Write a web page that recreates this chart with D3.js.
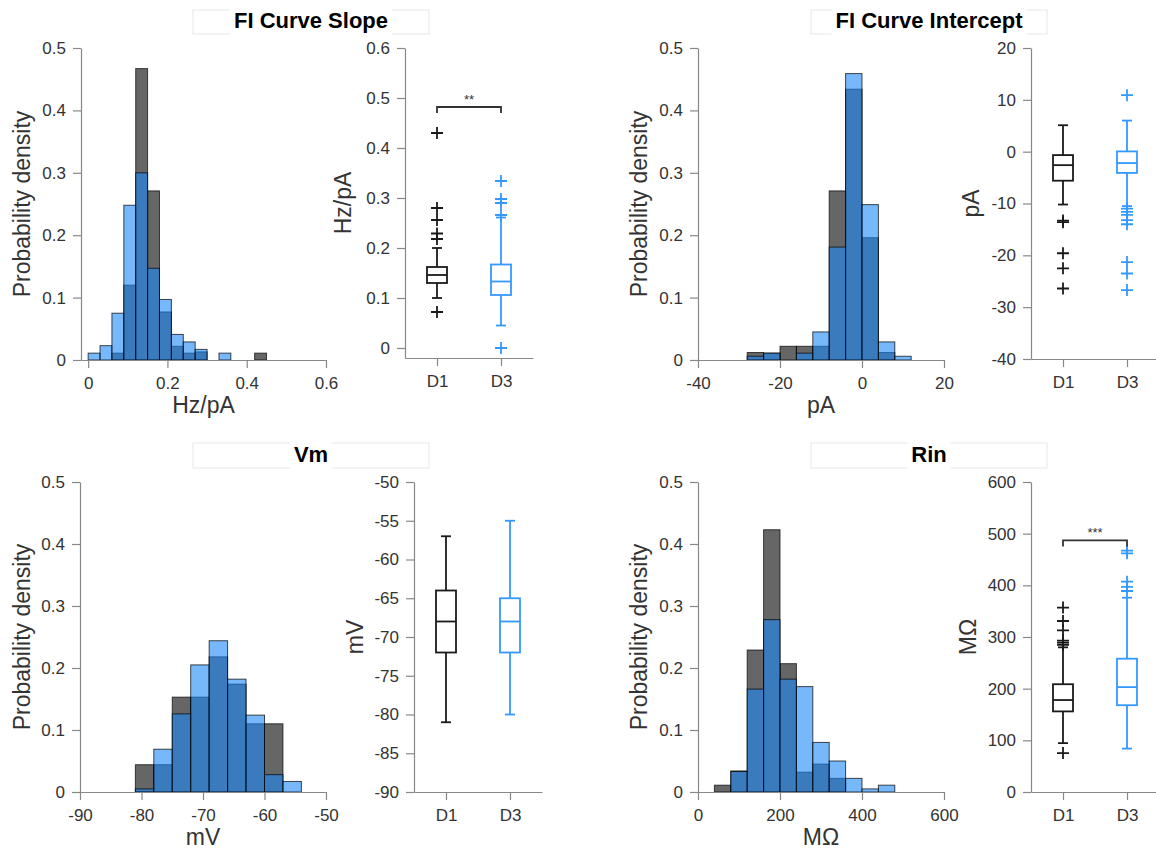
<!DOCTYPE html>
<html>
<head>
<meta charset="utf-8">
<script src="https://cdn.jsdelivr.net/npm/d3@7"></script>
<style>
  body { margin: 0; background: #fff; }
  svg text { font-family: "Liberation Sans", Arial, Helvetica, sans-serif; }
</style>
</head>
<body>
<script>
// histogram bins (edges) and probability per bin, D1 = black, D3 = blue
const slopeEdges = [0, 0.03, 0.06, 0.09, 0.12, 0.15, 0.18, 0.21, 0.24, 0.27, 0.30, 0.33, 0.36, 0.39, 0.42, 0.45];
const slopeD1 = [0, 0, 0.011, 0.12, 0.467, 0.271, 0.077, 0.022, 0.011, 0.013, 0, 0, 0, 0, 0.011];
const slopeD3 = [0.011, 0.023, 0.075, 0.248, 0.300, 0.147, 0.097, 0.041, 0.029, 0.017, 0, 0.011, 0, 0, 0];

const interceptEdges = [-28, -24, -20, -16, -12, -8, -4, 0, 4, 8, 12];
const interceptD1 = [0.012, 0.011, 0.022, 0.022, 0.022, 0.271, 0.434, 0.196, 0.012, 0];
const interceptD3 = [0.006, 0.011, 0, 0.011, 0.045, 0.181, 0.459, 0.249, 0.029, 0.006];

const vmEdges = [-81, -78, -75, -72, -69, -66, -63, -60, -57, -54];
const vmD1 = [0.044, 0.044, 0.153, 0.153, 0.218, 0.174, 0.110, 0.110, 0];
const vmD3 = [0.005, 0.069, 0.126, 0.205, 0.244, 0.182, 0.124, 0.028, 0.017];

const rinEdges = [40, 80, 120, 160, 200, 240, 280, 320, 360, 400, 440, 480];
const rinD1 = [0.011, 0.034, 0.229, 0.423, 0.207, 0.032, 0.045, 0.022, 0, 0, 0];
const rinD3 = [0, 0.033, 0.166, 0.278, 0.182, 0.170, 0.080, 0.050, 0.022, 0.005, 0.011];

// boxplots: [whisker low, q1, median, q3, whisker high] + outliers
const groups = ["D1", "D3"];
const slopeBoxD1 = [0.100, 0.130, 0.146, 0.162, 0.200];
const slopeOutD1 = [0.43, 0.28, 0.256, 0.229, 0.218, 0.072];
const slopeBoxD3 = [0.045, 0.106, 0.133, 0.167, 0.261];
const slopeOutD3 = [0.334, 0.298, 0.29, 0.266, 0];

const interceptBoxD1 = [-10.2, -5.6, -2.6, -0.66, 5.1];
const interceptOutD1 = [-13.3, -13.6, -19.6, -22.5, -26.4];
const interceptBoxD3 = [-10.5, -4.1, -2.2, 0.05, 6.0];
const interceptOutD3 = [10.9, -11.0, -11.6, -12.2, -13.2, -14.0, -21.3, -23.5, -26.7];

const vmBoxD1 = [-81, -72, -68, -64, -57];
const vmOutD1 = [];
const vmBoxD3 = [-80, -72, -68, -65, -55];
const vmOutD3 = [];

const rinBoxD1 = [94.6, 156, 178, 208.6, 280];
const rinOutD1 = [75.3, 285, 289, 293, 313, 331, 357];
const rinBoxD3 = [84, 168, 203, 258, 376];
const rinOutD3 = [389, 397, 407, 462, 467];

// tick labels
const densityTicks = [0, 0.1, 0.2, 0.3, 0.4, 0.5];
const slopeTicks = [0, 0.2, 0.4, 0.6];
const slopeBoxTicks = [0, 0.1, 0.2, 0.3, 0.4, 0.5, 0.6];
const interceptTicks = [-40, -20, 0, 20];
const interceptBoxTicks = [-40, -30, -20, -10, 0, 10, 20];
const vmTicks = [-90, -80, -70, -60, -50];
const vmBoxTicks = [-90, -85, -80, -75, -70, -65, -60, -55, -50];
const rinTicks = [0, 200, 400, 600];
const rinBoxTicks = [0, 100, 200, 300, 400, 500, 600];

const W = 1156, H = 852;
const grey = "#888";
const blackFill = "#000";
const blueFill = "#1c89f7";
const boxBlue = "#3399ff";

const svg = d3.select("body").append("svg")
  .attr("width", W).attr("height", H);

const fmt = (d) => String(+d.toFixed(2));

const styleAxis = (g) => {
  g.select(".domain").attr("stroke", grey).attr("stroke-width", 1.2);
  g.selectAll(".tick line").attr("stroke", grey).attr("stroke-width", 1.2);
  g.selectAll(".tick text").attr("fill", "#333").style("font-size", "17px");
};

const yLabel = (text, x, yc) => {
  svg.append("text")
    .attr("transform", `translate(${x},${yc}) rotate(-90)`)
    .attr("text-anchor", "middle")
    .attr("fill", "#333")
    .style("font-size", "23px")
    .text(text);
};

const drawHist = (o) => {
  const x = d3.scaleLinear().domain(o.xDomain).range([o.left, o.right]);
  const y = d3.scaleLinear().domain([0, 0.5]).range([o.bottom, o.top]);
  const g = svg.append("g");

  const bars = (vals, fill) => {
    g.append("g").selectAll("rect")
      .data(vals.map((v, i) => ({ v, x0: o.edges[i], x1: o.edges[i + 1] })).filter((d) => d.v > 0))
      .enter()
      .append("rect")
      .attr("x", (d) => x(d.x0))
      .attr("width", (d) => x(d.x1) - x(d.x0))
      .attr("y", (d) => y(d.v))
      .attr("height", (d) => y(0) - y(d.v))
      .attr("fill", fill)
      .attr("fill-opacity", 0.6)
      .attr("stroke", "#000")
      .attr("stroke-opacity", 0.7)
      .attr("stroke-width", 1);
  };
  bars(o.d1, blackFill);
  bars(o.d3, blueFill);

  g.append("g")
    .attr("transform", `translate(0,${o.bottom})`)
    .call(d3.axisBottom(x).tickValues(o.xTicks).tickFormat(fmt).tickSize(8).tickSizeOuter(0).tickPadding(9))
    .call(styleAxis);
  g.append("g")
    .attr("transform", `translate(${o.left},0)`)
    .call(d3.axisLeft(y).tickValues(densityTicks).tickFormat(fmt).tickSize(8).tickSizeOuter(0).tickPadding(7))
    .call(styleAxis);

  yLabel("Probability density", o.yLabelX, (o.top + o.bottom) / 2);
  svg.append("text")
    .attr("x", (o.left + o.right) / 2)
    .attr("y", o.bottom + 53)
    .attr("text-anchor", "middle")
    .attr("fill", "#333")
    .style("font-size", "23px")
    .text(o.xLabel);
};

const drawBox = (o) => {
  const x = d3.scaleLinear().domain([0.5, 2.5]).range([o.left, o.left + 128]);
  const y = d3.scaleLinear().domain(o.yDomain).range([o.bottom, o.top]);
  const g = svg.append("g");

  g.append("g")
    .attr("transform", `translate(0,${o.bottom})`)
    .call(d3.axisBottom(x).tickValues([1, 2]).tickFormat((d) => groups[d - 1]).tickSize(8).tickSizeOuter(0).tickPadding(9))
    .call(styleAxis);
  g.append("g")
    .attr("transform", `translate(${o.left},0)`)
    .call(d3.axisLeft(y).tickValues(o.yTicks).tickFormat(fmt).tickSize(8).tickSizeOuter(0).tickPadding(7))
    .call(styleAxis);

  const stats = [
    { pos: 1, s: o.box1, out: o.out1, color: "#1a1a1a" },
    { pos: 2, s: o.box2, out: o.out2, color: boxBlue }
  ];
  stats.forEach((b) => {
    const cx = x(b.pos);
    const hw = 10, cw = 5;
    const bg = g.append("g").attr("stroke", b.color).attr("stroke-width", 1.8).attr("fill", "none");
    bg.append("line").attr("x1", cx).attr("x2", cx).attr("y1", y(b.s[0])).attr("y2", y(b.s[1]));
    bg.append("line").attr("x1", cx).attr("x2", cx).attr("y1", y(b.s[3])).attr("y2", y(b.s[4]));
    bg.append("line").attr("x1", cx - cw).attr("x2", cx + cw).attr("y1", y(b.s[0])).attr("y2", y(b.s[0]));
    bg.append("line").attr("x1", cx - cw).attr("x2", cx + cw).attr("y1", y(b.s[4])).attr("y2", y(b.s[4]));
    bg.append("rect").attr("x", cx - hw).attr("width", 2 * hw)
      .attr("y", y(b.s[3])).attr("height", y(b.s[1]) - y(b.s[3]));
    bg.append("line").attr("x1", cx - hw).attr("x2", cx + hw).attr("y1", y(b.s[2])).attr("y2", y(b.s[2]));
    bg.selectAll("path.out").data(b.out).enter().append("path")
      .attr("class", "out")
      .attr("d", (v) => `M${cx - 6},${y(v)}H${cx + 6}M${cx},${y(v) - 6}V${y(v) + 6}`);
  });

  if (o.stars) {
    const by = y(o.barValue);
    g.append("path")
      .attr("d", `M${x(1)},${by + 6}V${by}H${x(2)}V${by + 6}`)
      .attr("fill", "none").attr("stroke", "#333").attr("stroke-width", 1.8);
    g.append("text")
      .attr("x", (x(1) + x(2)) / 2).attr("y", by - 3)
      .attr("text-anchor", "middle")
      .attr("fill", "#333")
      .style("font-size", "13px")
      .text(o.stars);
  }
  yLabel(o.yLabel, o.yLabelX, (o.top + o.bottom) / 2);
};

const title = (text, x0, x1, y0, y1) => {
  const g = svg.append("g");
  g.append("rect").attr("x", x0).attr("y", y0).attr("width", x1 - x0).attr("height", y1 - y0)
    .attr("fill", "#fff").attr("stroke", "#e8e8e8");
  const bg = g.append("rect").attr("fill", "#fff");
  const t = g.append("text")
    .attr("x", (x0 + x1) / 2).attr("y", y1 - 6)
    .attr("text-anchor", "middle")
    .style("font-size", "22px").style("font-weight", "bold")
    .attr("fill", "#000")
    .text(text);
  const bb = t.node().getBBox();
  bg.attr("x", bb.x - 4).attr("y", y0 - 1).attr("width", bb.width + 8).attr("height", y1 - y0 + 2);
};

drawHist({ left: 81, right: 326, top: 48, bottom: 360, xDomain: [-0.018, 0.6], xTicks: slopeTicks,
  edges: slopeEdges, d1: slopeD1, d3: slopeD3, xLabel: "Hz/pA", yLabelX: 30 });
drawBox({ left: 405, top: 48, bottom: 358, yDomain: [-0.02, 0.6], yTicks: slopeBoxTicks,
  box1: slopeBoxD1, out1: slopeOutD1, box2: slopeBoxD3, out2: slopeOutD3,
  yLabel: "Hz/pA", yLabelX: 351, stars: "**", barValue: 0.482 });

drawHist({ left: 698, right: 944, top: 48, bottom: 360, xDomain: [-40, 20], xTicks: interceptTicks,
  edges: interceptEdges, d1: interceptD1, d3: interceptD3, xLabel: "pA", yLabelX: 647 });
drawBox({ left: 1031, top: 48, bottom: 359, yDomain: [-40, 20], yTicks: interceptBoxTicks,
  box1: interceptBoxD1, out1: interceptOutD1, box2: interceptBoxD3, out2: interceptOutD3,
  yLabel: "pA", yLabelX: 979 });

drawHist({ left: 80, right: 326, top: 482, bottom: 792, xDomain: [-90, -50], xTicks: vmTicks,
  edges: vmEdges, d1: vmD1, d3: vmD3, xLabel: "mV", yLabelX: 30 });
drawBox({ left: 414, top: 482, bottom: 792, yDomain: [-90, -50], yTicks: vmBoxTicks,
  box1: vmBoxD1, out1: vmOutD1, box2: vmBoxD3, out2: vmOutD3,
  yLabel: "mV", yLabelX: 363 });

drawHist({ left: 698, right: 944, top: 482, bottom: 792, xDomain: [0, 600], xTicks: rinTicks,
  edges: rinEdges, d1: rinD1, d3: rinD3, xLabel: "MΩ", yLabelX: 647 });
drawBox({ left: 1031, top: 482, bottom: 792, yDomain: [0, 600], yTicks: rinBoxTicks,
  box1: rinBoxD1, out1: rinOutD1, box2: rinBoxD3, out2: rinOutD3,
  yLabel: "MΩ", yLabelX: 976, stars: "***", barValue: 487 });

title("FI Curve Slope", 193, 429, 10, 34);
title("FI Curve Intercept", 811, 1047, 10, 34);
title("Vm", 193, 429, 443, 468);
title("Rin", 811, 1047, 443, 468);
</script>
</body>
</html>
